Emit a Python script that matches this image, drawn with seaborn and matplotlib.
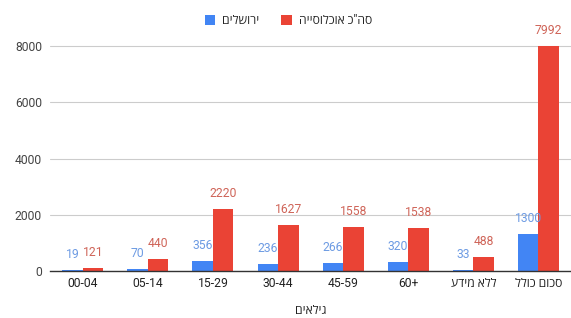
import re
import matplotlib
matplotlib.use("Agg")
import matplotlib.pyplot as plt
import seaborn as sns
import pandas as pd
from matplotlib.patches import Patch

categories = ["00-04", "05-14", "15-29", "30-44", "45-59", "60+", "ללא מידע", "סכום כולל"]
series_names = ["ירושלים", "סה\"כ אוכלוסייה"]
jerusalem = [19, 70, 356, 236, 266, 320, 33, 1300]
total_pop = [121, 440, 2220, 1627, 1558, 1538, 488, 7992]
y_ticks = [0, 2000, 4000, 6000, 8000]
x_title = "גילאים"

colors = ["#4285F4", "#EA4335"]
label_colors = ["#6d9be3", "#cf6458"]


def vis(s):
    # matplotlib has no bidi support: reverse right-to-left text for display
    return s[::-1] if re.search("[\u0590-\u05FF]", s) else s


sns.set_theme(style="white")
plt.rcParams["font.family"] = ["Roboto", "Open Sans", "DejaVu Sans"]

df = pd.DataFrame({
    "cat": [vis(c) for c in categories] * 2,
    "series": [series_names[0]] * len(categories) + [series_names[1]] * len(categories),
    "value": jerusalem + total_pop,
})

fig = plt.figure(figsize=(5.71, 3.18), dpi=100)
ax = fig.add_axes([0.088, 0.148, 0.912, 0.76])

sns.barplot(data=df, x="cat", y="value", hue="series", palette=colors,
            width=0.63, ax=ax, legend=False, saturation=1)

for cont, lc in zip(ax.containers, label_colors):
    for bar in cont:
        bar.set_edgecolor("none")
    ax.bar_label(cont, labels=[str(int(v)) for v in cont.datavalues],
                 padding=6.5, color=lc, fontsize=8.7)

ax.set_ylim(0, 8600)
ax.set_yticks(y_ticks)
ax.set_yticklabels([str(t) for t in y_ticks], fontsize=8.7, color="#444444")
ax.tick_params(axis="x", labelsize=8.7, labelcolor="#222222", length=0, pad=4.5)
ax.tick_params(axis="y", length=0, pad=6)
ax.set_xlim(-0.5, len(categories) - 0.5)
ax.yaxis.grid(True, color="#cccccc", linewidth=0.8)
ax.set_axisbelow(True)
for s in ["top", "right", "left"]:
    ax.spines[s].set_visible(False)
ax.spines["bottom"].set_color("#333333")
ax.spines["bottom"].set_linewidth(1.0)
ax.set_ylabel("")
ax.set_xlabel(vis(x_title), fontsize=8.7, color="#222222", labelpad=10)

handles = [Patch(facecolor=c, edgecolor="none", label=vis(n)) for c, n in zip(colors, series_names)]
fig.legend(handles=handles, loc="center", bbox_to_anchor=(0.505, 0.935), ncol=2,
           frameon=False, fontsize=8.7, handlelength=0.85, handleheight=0.85,
           handletextpad=0.6, columnspacing=1.8)

fig.savefig("out.png", dpi=100)
